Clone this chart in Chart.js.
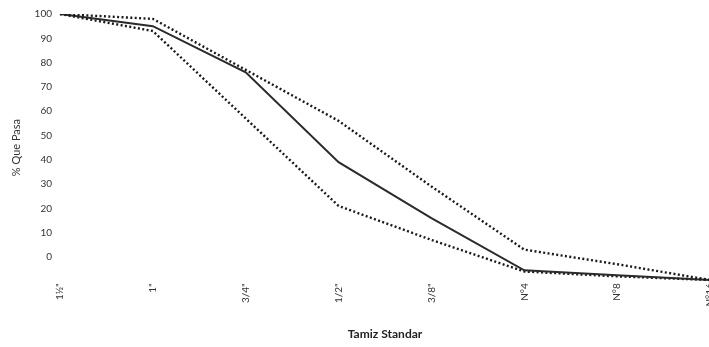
<!DOCTYPE html>
<html>
<head>
<meta charset="utf-8">
<script src="https://cdn.jsdelivr.net/npm/chart.js@4.4.1/dist/chart.umd.min.js"></script>
<style>
  html, body { margin: 0; padding: 0; background: #fff; overflow: hidden; }
  #wrap { width: 724px; height: 347px; }
</style>
</head>
<body>
<div id="wrap"><canvas id="granulo" width="724" height="347"></canvas></div>
<script>
// Tamices (eje x)
const tamices = ['1½"', '1"', '3/4"', '1/2"', '3/8"', 'N°4', 'N°8', 'N°16'];
// % que pasa
const limiteSuperior = [100, 98, 77, 56, 29, 3, -3, -9.5];
const curvaMuestra = [100, 95, 76, 39, 16, -5.5, -7.5, -9.5];
const limiteInferior = [100, 93, 57, 21, 7, -6, -8, -9.5];
const yTicks = [0, 10, 20, 30, 40, 50, 60, 70, 80, 90, 100];

const ctx = document.getElementById("granulo").getContext("2d");

const dotted = {
  borderColor: "#1a1a1a",
  borderWidth: 2.4,
  borderDash: [2, 2.4],
  pointRadius: 0,
  tension: 0,
  fill: false,
};

new Chart(ctx, {
  type: "line",
  data: {
    labels: tamices,
    datasets: [
      Object.assign({ label: "Límite superior", data: limiteSuperior }, dotted),
      {
        label: "Muestra",
        data: curvaMuestra,
        borderColor: "#2b2b2b",
        borderWidth: 2,
        pointRadius: 0,
        tension: 0,
        fill: false,
      },
      Object.assign({ label: "Límite inferior", data: limiteInferior }, dotted),
    ],
  },
  options: {
    responsive: false,
    animation: false,
    layout: { padding: { top: 8, right: 0, left: 10, bottom: 0 } },
    plugins: {
      legend: { display: false },
      tooltip: { enabled: false },
    },
    scales: {
      x: {
        offset: false,
        grid: { display: false, drawTicks: false },
        border: { display: false },
        ticks: {
          minRotation: 90,
          maxRotation: 90,
          padding: 2,
          color: "#333",
          font: { family: "Lato", size: 10 },
        },
        title: {
          display: true,
          text: "Tamiz Standar",
          color: "#222",
          font: { family: "Lato", size: 12, weight: "bold" },
          padding: { top: 18, bottom: 6 },
        },
      },
      y: {
        min: -10,
        max: 100,
        afterBuildTicks: (axis) => {
          axis.ticks = yTicks.map((v) => ({ value: v }));
        },
        afterFit: (axis) => {
          axis.width = 50;
        },
        grid: { display: false, drawTicks: false },
        border: { display: false },
        ticks: {
          padding: 8,
          color: "#333",
          font: { family: "Lato", size: 10 },
        },
        title: {
          display: true,
          text: "% Que Pasa",
          color: "#333",
          font: { family: "Lato", size: 11 },
          padding: { top: 0, bottom: 4 },
        },
      },
    },
  },
});
</script>
</body>
</html>
